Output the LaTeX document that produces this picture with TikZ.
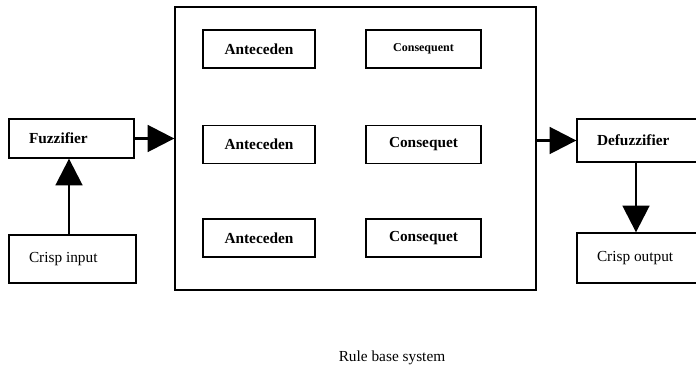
\documentclass[tikz,border=0pt]{standalone}
\usepackage{fontspec}
\setmainfont{Liberation Serif}
\usetikzlibrary{arrows.meta}

\tikzset{
    block/.style={draw, line width=1pt, minimum height=39*0.75pt, inner xsep=20*0.75pt,
        align=flush left, font=\fontsize{11.5}{13}\selectfont},
    rule/.style={draw, line width=1pt, minimum width=112*0.75pt, minimum height=38*0.75pt,
        align=center, font=\fontsize{11.5}{13}\selectfont\bfseries},
    flow/.style={line width=2pt, -{Triangle[length=20pt, width=20pt]}}
}

\begin{document}
\begin{tikzpicture}[x=0.75pt, y=-0.75pt]
    \useasboundingbox (0,0) rectangle (696,370);

    % Input side
    \node[block, text width=85*0.75pt, font=\fontsize{11.5}{13}\selectfont\bfseries] (fuzz) at (71.5,138.5) {Fuzzifier};
    \node[block, text width=87*0.75pt, minimum height=48*0.75pt] (crispin) at (72.5,259) {Crisp input};

    % Rule base
    \node[draw, line width=1pt, minimum width=361*0.75pt, minimum height=283*0.75pt] (rules) at (355.5,148.5) {};

    % Antecedents and consequents
    \node[rule] (ante1) at (259,49) {Anteceden};
    \node[rule] (ante2) at (259,144.5) {Anteceden};
    \node[rule] (ante3) at (259,238) {Anteceden};
    \node[rule, minimum width=115*0.75pt, font=\fontsize{9}{11}\selectfont\bfseries] (cons1) at (423.5,49) {Consequent};
    \node[rule, minimum width=115*0.75pt] (cons2) at (423.5,144.5) {Consequet};
    \node[rule, minimum width=115*0.75pt] (cons3) at (423.5,238) {Consequet};

    % Output side
    \node[block, text width=85*0.75pt, minimum height=43*0.75pt, font=\fontsize{11.5}{13}\selectfont\bfseries] (defuzz) at (639.5,140.5) {Defuzzifier};
    \node[block, text width=85*0.75pt, minimum height=50*0.75pt] (crispout) at (639.5,258) {Crisp output};

    % Caption
    \node[font=\fontsize{11.5}{13}\selectfont] (caption) at (392,358) {Rule base system};

    % Connectors
    \draw[flow] (crispin.north -| 69,0) -- (fuzz.south -| 69,0);
    \draw[flow] (fuzz.east) -- (fuzz.east -| rules.west);
    \draw[flow] (rules.east |- defuzz.west) -- (defuzz.west);
    \draw[flow] (defuzz.south -| 636,0) -- (crispout.north -| 636,0);
\end{tikzpicture}
\end{document}
